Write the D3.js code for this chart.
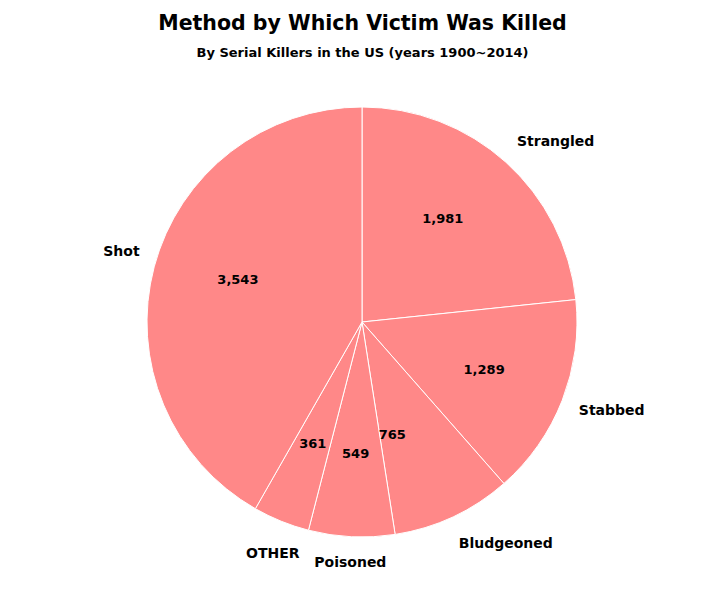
<!DOCTYPE html>
<meta charset="utf-8">
<style>
  body { margin: 0; background: #fff; }
  text { font-family: "DejaVu Sans", Verdana, sans-serif; fill: #000; }
</style>
<svg width="725" height="600"></svg>

<script src="https://d3js.org/d3.v7.min.js"></script>
<script>

// slices, clockwise from 12 o'clock
var methods = ["Strangled", "Stabbed", "Bludgeoned", "Poisoned", "OTHER", "Shot"]
var victims = [1981, 1289, 765, 549, 361, 3543]

var width = 725
var height = 600
var cx = 362, cy = 322, radius = 215

var svg = d3.select("svg")

svg.append("text")
    .attr("x", width / 2)
    .attr("y", 30)
    .attr("text-anchor", "middle")
    .style("font-size", "20.5px")
    .style("font-weight", "bold")
    .text("Method by Which Victim Was Killed")

svg.append("text")
    .attr("x", width / 2)
    .attr("y", 57)
    .attr("text-anchor", "middle")
    .style("font-size", "13px")
    .style("font-weight", "bold")
    .text("By Serial Killers in the US (years 1900~2014)")

var data = methods.map(function (m, i) { return { method: m, value: victims[i] } })

var pie = d3.pie()
    .sort(null)
    .value(function (d) { return d.value })

var arc = d3.arc()
    .innerRadius(0)
    .outerRadius(radius)

var slices = pie(data)

var g = svg.append("g")
    .attr("transform", "translate(" + cx + "," + cy + ")")

g.selectAll("path")
  .data(slices)
  .enter().append("path")
    .attr("d", arc)
    .attr("fill", "#ff8888")
    .attr("stroke", "#ffffff")
    .attr("stroke-width", 1)

function midAngle(d) { return (d.startAngle + d.endAngle) / 2 }

// little nudges where the labels were pushed apart (degrees, radius factor)
var nudge = {
  "Strangled":  { outer: 5, inner: -4 },
  "Stabbed":    { outer: -2 },
  "Bludgeoned": { outer: -8, inner: 10, innerR: 0.54 },
  "OTHER":      { outer: -1 },
  "Shot":       { outer: 1.5, inner: 4 }
}

function angleOf(d, which) {
  var n = nudge[d.data.method]
  var off = n && n[which] ? n[which] : 0
  return midAngle(d) + off * Math.PI / 180
}

function innerR(d) {
  var n = nudge[d.data.method]
  return radius * (n && n.innerR ? n.innerR : 0.61)
}

// values inside the slices
g.selectAll("text.value")
  .data(slices)
  .enter().append("text")
    .attr("class", "value")
    .attr("text-anchor", "middle")
    .attr("dy", "0.35em")
    .style("font-size", "13px")
    .style("font-weight", "bold")
    .attr("x", function (d) { return Math.sin(angleOf(d, "inner")) * innerR(d) })
    .attr("y", function (d) { return -Math.cos(angleOf(d, "inner")) * innerR(d) })
    .text(function (d) { return d3.format(",")(d.data.value) })

// category names outside
var names = g.selectAll("text.name")
  .data(slices)
  .enter().append("text")
    .attr("class", "name")
    .attr("text-anchor", "middle")
    .attr("dy", "0.35em")
    .style("font-size", "14px")
    .style("font-weight", "bold")
    .text(function (d) { return d.data.method })

names.each(function (d) {
  var w = this.getComputedTextLength()
  var a = angleOf(d, "outer")
  var s = Math.sin(a), c = -Math.cos(a)
  var r = radius + Math.abs(s) * w / 2 + Math.abs(c) * 8 + 16
  d3.select(this).attr("x", s * r).attr("y", c * r)
})

</script>
